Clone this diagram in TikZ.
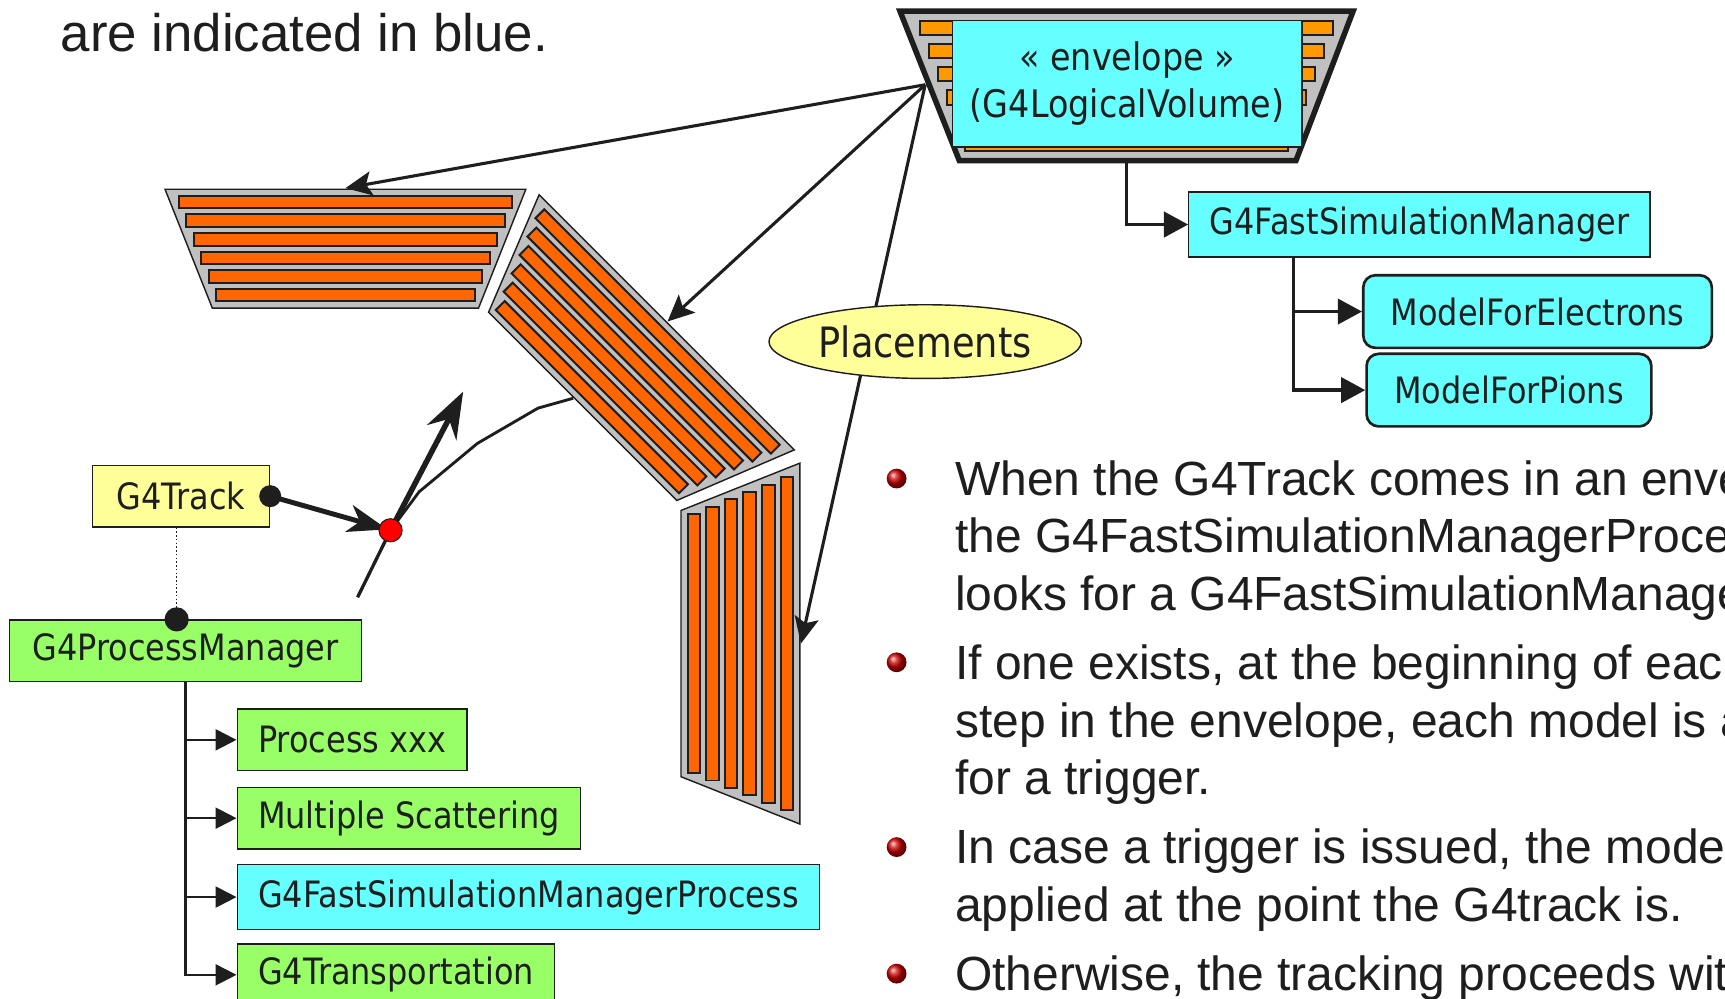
\documentclass[tikz,border=0pt]{standalone}
\usepackage{fontspec}
\setmainfont{Liberation Sans}
\newfontfamily\boxfont[FakeStretch=0.88]{DejaVu Sans}
\usetikzlibrary{positioning, arrows.meta, shapes.geometric, calc}

\definecolor{ink}{HTML}{1E1E1E}
\definecolor{calogray}{HTML}{C0C0C0}
\definecolor{barorange}{HTML}{FF6600}
\definecolor{envorange}{HTML}{FF9900}
\definecolor{boxcyan}{HTML}{66FFFF}
\definecolor{boxgreen}{HTML}{99FF66}
\definecolor{boxyellow}{HTML}{FFFF99}

\tikzset{
	labelbox/.style={draw=ink, line width=1.2pt, text=ink, font=\boxfont\fontsize{33}{43}\selectfont, inner xsep=19pt, inner ysep=0pt, minimum height=56pt},
	cyanbox/.style={labelbox, fill=boxcyan},
	greenbox/.style={labelbox, fill=boxgreen},
	yellowbox/.style={labelbox, fill=boxyellow},
	modelbox/.style={cyanbox, rounded corners=11pt, line width=2.4pt, inner xsep=25pt, minimum height=66pt},
	proctree/.style={draw=ink, line width=2pt, -{Triangle[length=19pt, width=19pt]}},
	fsmtree/.style={draw=ink, line width=3pt, -{Triangle[length=22pt, width=23pt]}},
	placearrow/.style={draw=ink, line width=2.8pt, -{Stealth[length=24pt, width=22pt, inset=5pt]}},
	caloframe/.style={fill=calogray, draw=ink, line width=1.3pt},
	calobar/.style={fill=barorange, draw=ink, line width=1.8pt},
	envbar/.style={fill=envorange, draw=ink, line width=1.8pt},
	redball/.style={circle, inner sep=0pt, minimum size=18pt, ball color=red!80!black},
	slidetext/.style={anchor=base west, inner sep=0pt, text=ink, font=\fontsize{43.6}{52}\selectfont},
	pics/calo/.style={code={
		\draw[caloframe] (-164,-413) -- (164,-413) -- (121,-305) -- (-121,-305) -- cycle;
		\foreach \k in {0,...,5}{
			\pgfmathsetmacro\yt{-407+16.9*\k}
			\pgfmathsetmacro\hw{0.397*(401.25-16.9*\k)-8}
			\draw[calobar] (-\hw,\yt) rectangle (\hw,\yt+11.5);
		}
		\coordinate (-hit) at (0,-414);
	}}
}

\begin{document}
\begin{tikzpicture}[x=1pt, y=-1pt]
	\useasboundingbox (0,0) rectangle (1568,908);
	\fill[white] (0,0) rectangle (1568,908);
	\clip (0,0) rectangle (1568,908);

	\node[slidetext, font=\fontsize{48}{50}\selectfont] (intro) at (55,47) {are indicated in blue.};

	\coordinate (ip) at (314,585);
	\pic (w1) at (ip) {calo};
	\pic[rotate=-45] (w2) at (ip) {calo};
	\pic[rotate=-90] (w3) at (ip) {calo};

	\draw[caloframe, line width=5pt] (818,10) -- (1230,10) -- (1178,146) -- (872,146) -- cycle;
	\foreach \k in {0,...,5}{
		\pgfmathsetmacro\yt{19+21*\k}
		\pgfmathsetmacro\hw{194-0.39*(\yt-3.5)}
		\draw[envbar] (1024-\hw,\yt) rectangle (1024+\hw,\yt+13);
	}
	\node[cyanbox, minimum width=318pt, minimum height=115pt, inner xsep=8pt, align=center, anchor=north west, font=\boxfont\fontsize{34.5}{43}\selectfont] (env) at (865,18) {« envelope »\\(G4LogicalVolume)};
	\coordinate (envtip) at (841,77);
	\coordinate (envbase) at (1024,148);

	\draw[placearrow] (envtip) -- (w1-hit);
	\draw[placearrow] (envtip) -- (w2-hit);
	\draw[placearrow] (envtip) -- (w3-hit);
	\node[ellipse, draw=ink, fill=boxyellow, line width=1.3pt, inner sep=0pt, minimum width=284pt, minimum height=67pt, text=ink, font=\boxfont\fontsize{38}{40}\selectfont] (plc) at (841,310.5) {Placements};

	\node[cyanbox, minimum height=59pt, anchor=north west] (fsm) at (1080,174) {G4FastSimulationManager};
	\node[modelbox, anchor=north west] (elec) at (1238,249) {ModelForElectrons};
	\node[modelbox, below right=3pt and 3pt of elec.south west] (pion) {ModelForPions};
	\coordinate (fsmroot) at ($(fsm.south west)+(96pt,0pt)$);
	\draw[fsmtree] (envbase) |- (fsm.west);
	\draw[fsmtree] (fsmroot) |- (elec.west);
	\draw[fsmtree] (fsmroot) |- (pion.west);

	\node[yellowbox, minimum width=161pt] (trk) at (164.5,451) {G4Track};
	\node[greenbox, minimum width=320pt, anchor=north west] (pm) at (8,563) {G4ProcessManager};
	\node[greenbox, anchor=west] (pxxx) at (215,672.5) {Process xxx};
	\node[greenbox, below right=14pt and 0pt of pxxx.south west] (msc) {Multiple Scattering};
	\node[cyanbox, minimum height=59pt, below right=13pt and 0pt of msc.south west] (fsmp) {G4FastSimulationManagerProcess};
	\node[greenbox, below right=12pt and 0pt of fsmp.south west] (transp) {G4Transportation};
	\draw[proctree] (pm.south) |- (pxxx.west);
	\draw[proctree] (pm.south) |- (msc.west);
	\draw[proctree] (pm.south) |- (fsmp.west);
	\draw[proctree] (pm.south) |- (transp.west);

	\coordinate (pmdot) at ($(pm.north west)!0.475!(pm.north east)$);
	\draw[ink, dotted, line width=1.4pt] (pmdot |- trk.south) -- (pmdot);
	\fill[ink] (pmdot) circle (11pt);

	\coordinate (vtx) at (355,482);
	\coordinate (trkin) at (325,543);
	\coordinate (stepend) at (421,356);
	\draw[ink, line width=3pt] (trkin) -- (vtx);
	\draw[ink, line width=5pt, -{Stealth[length=42pt, width=30pt, inset=14pt]}] (vtx) -- (stepend);
	\draw[ink, line width=2.6pt] (vtx) -- (381,447) -- (434,403) -- (489,371) -- (521,362);
	\draw[ink, line width=4.5pt, -{Stealth[length=36pt, width=25pt, inset=10pt]}, shorten >=3pt] (trk.east) -- (vtx);
	\fill[ink] (trk.east) circle (10pt);
	\node[circle, fill=red, draw=ink, line width=1pt, minimum size=21pt, inner sep=0pt] (vdot) at (vtx) {};

	\node[redball] (b1) at (815,435) {};
	\node[slidetext] (l1) at (868,450) {When the G4Track comes in an envelope,};
	\node[slidetext] (l2) at (868,502) {the G4FastSimulationManagerProcess};
	\node[slidetext] (l3) at (868,555) {looks for a G4FastSimulationManager.};
	\node[redball] (b2) at (815,602) {};
	\node[slidetext] (l4) at (868,618) {If one exists, at the beginning of each};
	\node[slidetext] (l5) at (868,670) {step in the envelope, each model is asked};
	\node[slidetext] (l6) at (868,722) {for a trigger.};
	\node[redball] (b3) at (815,770) {};
	\node[slidetext] (l7) at (868,785) {In case a trigger is issued, the model is};
	\node[slidetext] (l8) at (868,838) {applied at the point the G4track is.};
	\node[redball] (b4) at (815,885) {};
	\node[slidetext] (l9) at (868,900) {Otherwise, the tracking proceeds with a normal tracking.};
\end{tikzpicture}
\end{document}
